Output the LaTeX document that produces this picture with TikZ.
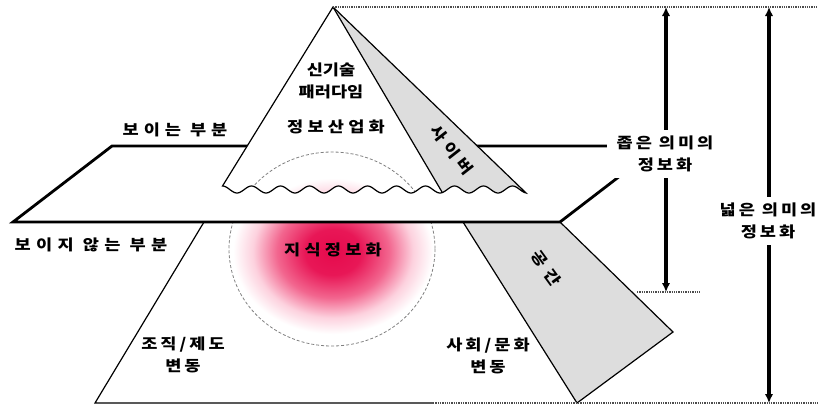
\documentclass[tikz,border=0pt]{standalone}
\usepackage{fontspec}
\newfontfamily\kr{Noto Sans CJK KR}[FakeStretch=1.17]
\usetikzlibrary{arrows.meta}
\pgfdeclareradialshading{glowshade}{\pgfpoint{0bp}{0bp}}{rgb(0bp)=(0.90,0.04,0.30); rgb(7bp)=(0.91,0.09,0.34); rgb(14bp)=(0.95,0.40,0.56); rgb(20bp)=(0.99,0.82,0.87); rgb(25bp)=(1,1,1); rgb(50bp)=(1,1,1)}
\definecolor{grayfill}{RGB}{221,221,221}
\tikzset{
  x=1pt, y=-1pt,
  txt/.style={font=\kr\bfseries\fontsize{15}{22}\selectfont, align=center, inner sep=0pt},
  sp/.style={font=\kr\bfseries\fontsize{15}{22}\selectfont\addfontfeature{LetterSpace=#1}, align=center, inner sep=0pt},
  dimlbl/.style={sp=20, fill=white, inner xsep=10pt, inner ysep=6pt},
  thickline/.style={line width=2.8pt},
  thinline/.style={line width=1.2pt},
  refline/.style={line width=1.3pt, densely dotted, black!70},
  dimarrow/.style={line width=3.5pt, {Latex[length=9pt,width=8.5pt]}-{Latex[length=9pt,width=8.5pt]}},
  glowarea/.style={shading=glowshade},
  circ/.style={densely dashed, gray, line width=0.8pt}
}
\def\pyrpath{(333,7) -- plot[domain=222.5:526, samples=200, smooth] (\x,{189.5-3.5*cos((\x-222.5)*12.4138)}) -- cycle}
\begin{document}
\begin{tikzpicture}
\useasboundingbox (0,0) rectangle (818,405);
% coordinates
\coordinate (apex) at (333,7);
\coordinate (pl1) at (112,146);
\coordinate (pl2) at (659,146);
\coordinate (pl3) at (560,222);
\coordinate (pl4) at (13,222);
\coordinate (lowL) at (204,222);
\coordinate (botL) at (95,403);
\coordinate (botM) at (433,403);
\coordinate (botR) at (818,403);
\coordinate (g1) at (463,222);
\coordinate (g2) at (560,222);
\coordinate (g3) at (673,332);
\coordinate (g4) at (577,403);
\coordinate (topR) at (818,7);
\coordinate (midL) at (637,292);
\coordinate (midR) at (700,292);
\coordinate (a1t) at (666,7);
\coordinate (a1b) at (666,292);
\coordinate (a2t) at (769,7);
\coordinate (a2b) at (769,403);

% lower glow and circle
\begin{scope}
  \clip (0,222) rectangle (818,405);
  \shade[glowarea] (233,170) rectangle (433,334);
  \draw[circ] (332,249) ellipse [x radius=103, y radius=97];
\end{scope}
% lower shape
\draw[thinline] (lowL) -- (botL) -- (botM);
\draw[thinline, fill=grayfill] (g1) -- (g2) -- (g3) -- (g4) -- cycle;
% plane
\draw[thickline, fill=white, line join=miter] (pl1) -- (pl2) -- (pl3) -- (pl4) -- cycle;
% pyramid
\fill[white] \pyrpath;
\begin{scope}
  \clip \pyrpath;
  \shade[glowarea] (238,178) rectangle (428,348);
  \draw[circ] (332,249) ellipse [x radius=103, y radius=97];
  \fill[grayfill] (apex) -- (442,192) -- (530,192) -- cycle;
  \draw[thinline] (apex) -- (442,192);
\end{scope}
\draw[thinline] \pyrpath;
% reference lines
\draw[refline] (apex) -- (topR);
\draw[refline] (midL) -- (midR);
\draw[refline] (botM) -- (botR);
% arrows
\draw[dimarrow] (a1t) -- (a1b);
\draw[dimarrow] (a2t) -- (a2b);
\node[dimlbl] (narrow) at (665,154) {좁은 의미의\\정보화};
\node[dimlbl] (broad) at (768,221) {넓은 의미의\\정보화};
% labels
\node[sp=33] (vis) at (175,130) {보이는 부분};
\node[sp=35] (invis) at (91,245) {보이지 않는 부분};
\node[txt] (newtech) at (331,81) {신기술\\패러다임};
\node[sp=28] (infoind) at (336,127) {정보산업화};
\node[sp=28] (knowinfo) at (333,250) {지식정보화};
\node[sp=20] (org) at (183,355) {조직/제도\\변동};
\node[sp=20] (soc) at (488,356) {사회/문화\\변동};
\node[sp=32, rotate=-52] (cyber) at (452,150) {사이버};
\node[sp=45, rotate=-54] (space) at (546,268) {공간};
\end{tikzpicture}
\end{document}
